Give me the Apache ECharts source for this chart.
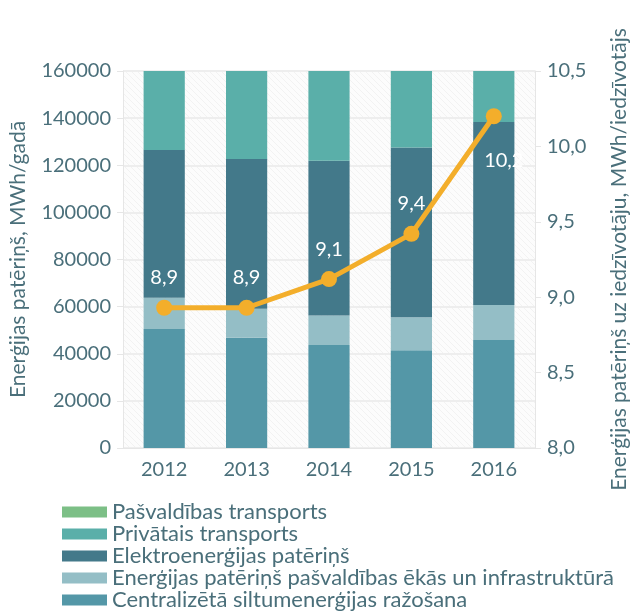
<!DOCTYPE html>
<html>
<head>
<meta charset="utf-8">
<style>
  html, body, #main { width: 638px; height: 613px; margin: 0; background: #fff; }
</style>
<script src="https://cdn.jsdelivr.net/npm/echarts@6/dist/echarts.min.js"></script>
</head>
<body>
<div id="main"></div>
<script>
// data
var years = ['2012', '2013', '2014', '2015', '2016'];
var centralHeat = [50500, 46800, 43700, 41500, 45800];
var buildings = [13300, 12300, 12500, 14000, 14900];
var electricity = [62700, 63600, 65700, 72000, 77700];
var privateTransport = [40000, 42000, 42000, 38000, 30000];
var municipalTransport = [1500, 1500, 1500, 1500, 1500];
var perCapita = [8.93, 8.93, 9.12, 9.42, 10.2];
var perCapitaLabels = ['8,9', '8,9', '9,1', '9,4', '10,2'];

var textColor = '#4a6f7a';
var font = 'Lato';

// faint diagonal hatching behind the plot
var hatch = document.createElement('canvas');
hatch.width = 6; hatch.height = 6;
var hc = hatch.getContext('2d');
hc.fillStyle = '#fcfcfc';
hc.fillRect(0, 0, 6, 6);
hc.strokeStyle = '#f2f2f2';
hc.lineWidth = 1;
hc.beginPath();
hc.moveTo(0, 0); hc.lineTo(6, 6);
hc.stroke();

var chart = echarts.init(document.getElementById('main'), null, { renderer: 'canvas' });

function bar(name, data, color) {
  return {
    name: name, type: 'bar', stack: 'e', data: data, barWidth: '50%',
    itemStyle: { color: color }, clip: true
  };
}

var lineLabelData = perCapita.map(function (v, i) {
  var d = { value: v };
  if (i === 4) {
    d.label = { position: 'bottom', distance: 26, offset: [10, 0] };
  }
  return d;
});

chart.setOption({
  animation: false,
  textStyle: { fontFamily: font },
  grid: {
    left: 121, right: 98, top: 71, bottom: 165,
    show: true, borderWidth: 0,
    backgroundColor: { image: hatch, repeat: 'repeat' }
  },
  legend: {
    orient: 'vertical', left: 62, top: 501, padding: 0,
    itemWidth: 45, itemHeight: 11, itemGap: 0,
    icon: 'rect',
    textStyle: { color: textColor, fontSize: 22, fontFamily: font, lineHeight: 22 },
    data: ['Pašvaldības transports', 'Privātais transports', 'Elektroenerģijas patēriņš',
      'Enerģijas patēriņš pašvaldības ēkās un infrastruktūrā', 'Centralizētā siltumenerģijas ražošana']
  },
  xAxis: {
    type: 'category', data: years,
    axisLine: { lineStyle: { color: '#e6e6e6' } },
    axisTick: { lineStyle: { color: '#e6e6e6' }, length: 6 },
    axisLabel: { color: textColor, fontSize: 20, margin: 12 }
  },
  yAxis: [{
    type: 'value', min: 0, max: 160000, interval: 20000,
    name: 'Enerģijas patēriņš, MWh/gadā', nameLocation: 'middle', nameGap: 94,
    nameTextStyle: { color: textColor, fontSize: 21 },
    axisLine: { show: true, lineStyle: { color: '#e6e6e6' } },
    axisTick: { show: true, lineStyle: { color: '#e6e6e6' }, length: 6 },
    axisLabel: { color: textColor, fontSize: 20, margin: 12, formatter: function (v) { return String(v); } },
    splitLine: { lineStyle: { color: '#eeeeee', width: 2 } }
  }, {
    type: 'value', min: 8, max: 10.5, interval: 0.5, position: 'right',
    name: 'Enerģijas patēriņš uz iedzīvotāju, MWh/iedzīvotājs', nameLocation: 'middle', nameGap: 74,
    nameTextStyle: { color: textColor, fontSize: 21 },
    axisLine: { show: true, lineStyle: { color: '#e6e6e6' } },
    axisTick: { show: true, lineStyle: { color: '#e6e6e6' }, length: 6 },
    axisLabel: {
      color: textColor, fontSize: 20, margin: 12,
      formatter: function (v) { return v.toFixed(1).replace('.', ','); }
    },
    splitLine: { show: false }
  }],
  series: [
    bar('Centralizētā siltumenerģijas ražošana', centralHeat, '#5497a7'),
    bar('Enerģijas patēriņš pašvaldības ēkās un infrastruktūrā', buildings, '#94bec6'),
    bar('Elektroenerģijas patēriņš', electricity, '#43798a'),
    bar('Privātais transports', privateTransport, '#5aafa9'),
    bar('Pašvaldības transports', municipalTransport, '#7cbf86'),
    {
      name: 'per capita', type: 'line', yAxisIndex: 1, data: lineLabelData, z: 5,
      symbol: 'circle', symbolSize: 16,
      lineStyle: { color: '#f3ae2b', width: 5 },
      itemStyle: { color: '#f3ae2b' },
      label: {
        show: true, position: 'top', distance: 12, color: '#ffffff', fontSize: 20,
        formatter: function (p) { return perCapitaLabels[p.dataIndex]; }
      }
    }
  ]
});
</script>
</body>
</html>
